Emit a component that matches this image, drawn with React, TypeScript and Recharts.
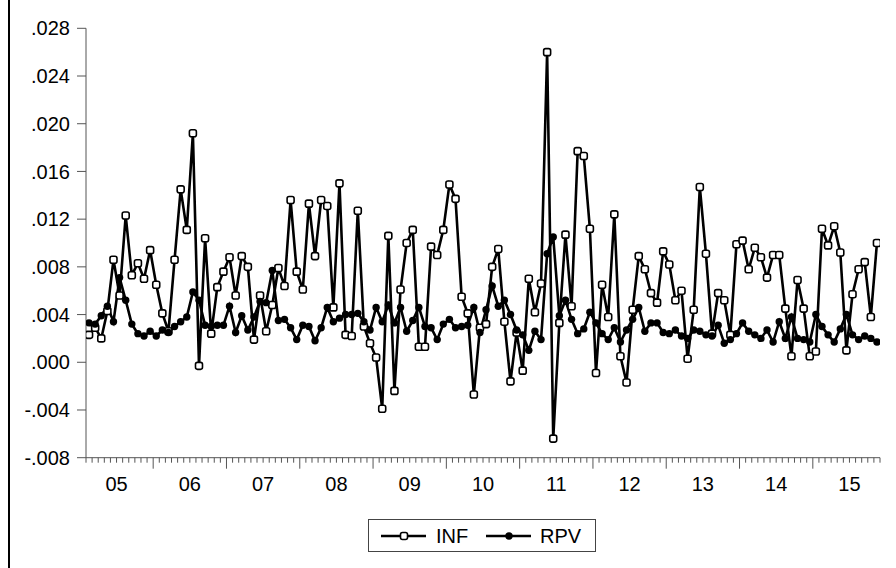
import { LineChart, Line, XAxis, YAxis } from "recharts";

// monthly observations, 2005M02 .. 2015M11
const yearLabels = ["05", "06", "07", "08", "09", "10", "11", "12", "13", "14", "15"];
const firstMonth = 1; // Feb (0 = Jan)

const inf = [
  0.0023, 0.0029, 0.0020, 0.0043, 0.0086, 0.0056, 0.0123, 0.0073, 0.0083, 0.0070,
  0.0094, 0.0065, 0.0041, 0.0026, 0.0086, 0.0145, 0.0111, 0.0192, -0.0003, 0.0104,
  0.0024, 0.0063, 0.0076, 0.0088, 0.0056, 0.0089, 0.0080, 0.0019, 0.0056, 0.0026,
  0.0048, 0.0079, 0.0064, 0.0136, 0.0076, 0.0061, 0.0133, 0.0089, 0.0136, 0.0131,
  0.0046, 0.0150, 0.0023, 0.0022, 0.0127, 0.0030, 0.0016, 0.0004, -0.0039, 0.0106,
  -0.0024, 0.0061, 0.0100, 0.0111, 0.0013, 0.0013, 0.0097, 0.0090, 0.0111, 0.0149,
  0.0137, 0.0055, 0.0041, -0.0027, 0.0029, 0.0032, 0.0080, 0.0095, 0.0034, -0.0016,
  0.0025, -0.0007, 0.0070, 0.0042, 0.0066, 0.0260, -0.0064, 0.0033, 0.0107, 0.0047,
  0.0177, 0.0173, 0.0112, -0.0009, 0.0065, 0.0038, 0.0124, 0.0005, -0.0017, 0.0044,
  0.0089, 0.0078, 0.0058, 0.0050, 0.0093, 0.0082, 0.0052, 0.0060, 0.0003, 0.0044,
  0.0147, 0.0091, 0.0024, 0.0058, 0.0052, 0.0023, 0.0099, 0.0102, 0.0078, 0.0096,
  0.0088, 0.0071, 0.0090, 0.0090, 0.0045, 0.0005, 0.0069, 0.0045, 0.0005, 0.0009,
  0.0112, 0.0098, 0.0114, 0.0092, 0.0010, 0.0057, 0.0078, 0.0084, 0.0038, 0.0100,
];

const rpv = [
  0.0033, 0.0032, 0.0039, 0.0047, 0.0034, 0.0071, 0.0052, 0.0032, 0.0024, 0.0022,
  0.0026, 0.0022, 0.0027, 0.0025, 0.0030, 0.0034, 0.0038, 0.0059, 0.0052, 0.0031,
  0.0030, 0.0031, 0.0031, 0.0047, 0.0025, 0.0039, 0.0027, 0.0038, 0.0051, 0.0050,
  0.0077, 0.0035, 0.0036, 0.0029, 0.0019, 0.0031, 0.0030, 0.0018, 0.0029, 0.0046,
  0.0034, 0.0037, 0.0040, 0.0040, 0.0041, 0.0034, 0.0027, 0.0046, 0.0034, 0.0048,
  0.0033, 0.0046, 0.0026, 0.0035, 0.0046, 0.0030, 0.0029, 0.0019, 0.0032, 0.0036,
  0.0029, 0.0030, 0.0031, 0.0046, 0.0025, 0.0044, 0.0064, 0.0047, 0.0052, 0.0040,
  0.0027, 0.0023, 0.0010, 0.0026, 0.0019, 0.0091, 0.0105, 0.0039, 0.0052, 0.0036,
  0.0024, 0.0028, 0.0042, 0.0033, 0.0024, 0.0019, 0.0029, 0.0017, 0.0027, 0.0036,
  0.0046, 0.0026, 0.0033, 0.0033, 0.0025, 0.0024, 0.0027, 0.0022, 0.0020, 0.0027,
  0.0026, 0.0023, 0.0022, 0.0031, 0.0016, 0.0019, 0.0024, 0.0033, 0.0026, 0.0023,
  0.0020, 0.0027, 0.0017, 0.0034, 0.0020, 0.0038, 0.0020, 0.0019, 0.0017, 0.0040,
  0.0030, 0.0023, 0.0017, 0.0028, 0.0040, 0.0023, 0.0019, 0.0022, 0.0020, 0.0017,
];

const yTicks = [-0.008, -0.004, 0, 0.004, 0.008, 0.012, 0.016, 0.02, 0.024, 0.028];

const data = inf.map((v, i) => ({ t: i, INF: v, RPV: rpv[i] }));
// tick marks sit on the boundaries between months
const xTicks = Array.from({ length: inf.length + 1 }, (_, k) => k - 0.5);
const xDomain = [-0.5, inf.length - 0.5];

const font = "'Liberation Sans', Arial, sans-serif";

const fmtY = (v: number) => {
  if (v === 0) return ".000";
  const s = Math.abs(v).toFixed(3).replace(/^0/, "");
  return v < 0 ? "-" + s : s;
};

const XTick = (props: any) => {
  const { x, y, payload } = props;
  const m = payload.value + 0.5 + firstMonth; // months since Jan 2005 boundary
  const r = ((m % 12) + 12) % 12;
  const major = Math.abs(r) < 1e-6;
  const isLabel = Math.abs(r - 6) < 1e-6;
  const idx = Math.round((m - 6) / 12);
  return (
    <g>
      <line x1={x} x2={x} y1={y} y2={y + (major ? 11 : 5)} stroke="#555" strokeWidth={1} />
      {isLabel && yearLabels[idx] && (
        <text x={x} y={y + 33} textAnchor="middle" fontSize={20} fontFamily={font} fill="#000">
          {yearLabels[idx]}
        </text>
      )}
    </g>
  );
};

const InfDot = (p: any) => (
  <rect key={p.index} x={p.cx - 3.5} y={p.cy - 3.5} width={7} height={7} rx={2}
    fill="#fff" stroke="#000" strokeWidth={1.6} />
);
const RpvDot = (p: any) => (
  <circle key={p.index} cx={p.cx} cy={p.cy} r={3.7} fill="#000" />
);

const App = () => {
  return (
    <div style={{ position: "absolute", left: 0, top: 0, width: 896, height: 568, background: "#fff" }}>
      <div style={{ position: "absolute", left: 8, top: 0, width: 2, height: 568, background: "#000" }} />

      <LineChart
        width={896}
        height={568}
        data={data}
        margin={{ top: 28.3, right: 16, bottom: 70.3, left: 0 }}
        style={{ fontFamily: font }}
      >
        <XAxis
          dataKey="t"
          type="number"
          domain={xDomain}
          ticks={xTicks}
          interval={0}
          height={40}
          tickSize={0}
          tickMargin={0}
          tickLine={false}
          tick={<XTick />}
          axisLine={{ stroke: "#555" }}
          allowDataOverflow
        />
        <XAxis
          xAxisId="top"
          orientation="top"
          type="number"
          domain={xDomain}
          height={0}
          tick={false}
          tickLine={false}
          axisLine={{ stroke: "#333" }}
        />
        <YAxis
          type="number"
          domain={[-0.008, 0.028]}
          ticks={yTicks}
          interval={0}
          width={86}
          tickSize={9}
          tickMargin={7}
          tickFormatter={fmtY}
          tick={{ fill: "#000", fontSize: 20, fontFamily: font }}
          tickLine={{ stroke: "#555" }}
          axisLine={{ stroke: "#555" }}
          allowDataOverflow
        />
        <YAxis
          yAxisId="right"
          orientation="right"
          type="number"
          domain={[-0.008, 0.028]}
          width={0}
          tick={false}
          tickLine={false}
          axisLine={{ stroke: "#777" }}
        />
        <Line type="linear" dataKey="INF" stroke="#000" strokeWidth={2.6}
          dot={InfDot} activeDot={false} isAnimationActive={false} />
        <Line type="linear" dataKey="RPV" stroke="#000" strokeWidth={2.6}
          dot={RpvDot} activeDot={false} isAnimationActive={false} />
      </LineChart>

      {/* legend box */}
      <div style={{ position: "absolute", left: 368, top: 519, width: 226, height: 31, border: "1px solid #444", background: "#fff" }}>
        <svg width={226} height={31} style={{ display: "block" }}>
          <line x1={12} x2={57} y1={16} y2={16} stroke="#000" strokeWidth={2.6} />
          <rect x={31.5} y={12.5} width={7} height={7} rx={2} fill="#fff" stroke="#000" strokeWidth={1.6} />
          <text x={67} y={23} fontSize={20} fontFamily={font} fill="#000">INF</text>
          <line x1={117} x2={162} y1={16} y2={16} stroke="#000" strokeWidth={2.6} />
          <circle cx={140} cy={16} r={3.7} fill="#000" />
          <text x={171} y={23} fontSize={20} fontFamily={font} fill="#000">RPV</text>
        </svg>
      </div>
    </div>
  );
};

export default App;
